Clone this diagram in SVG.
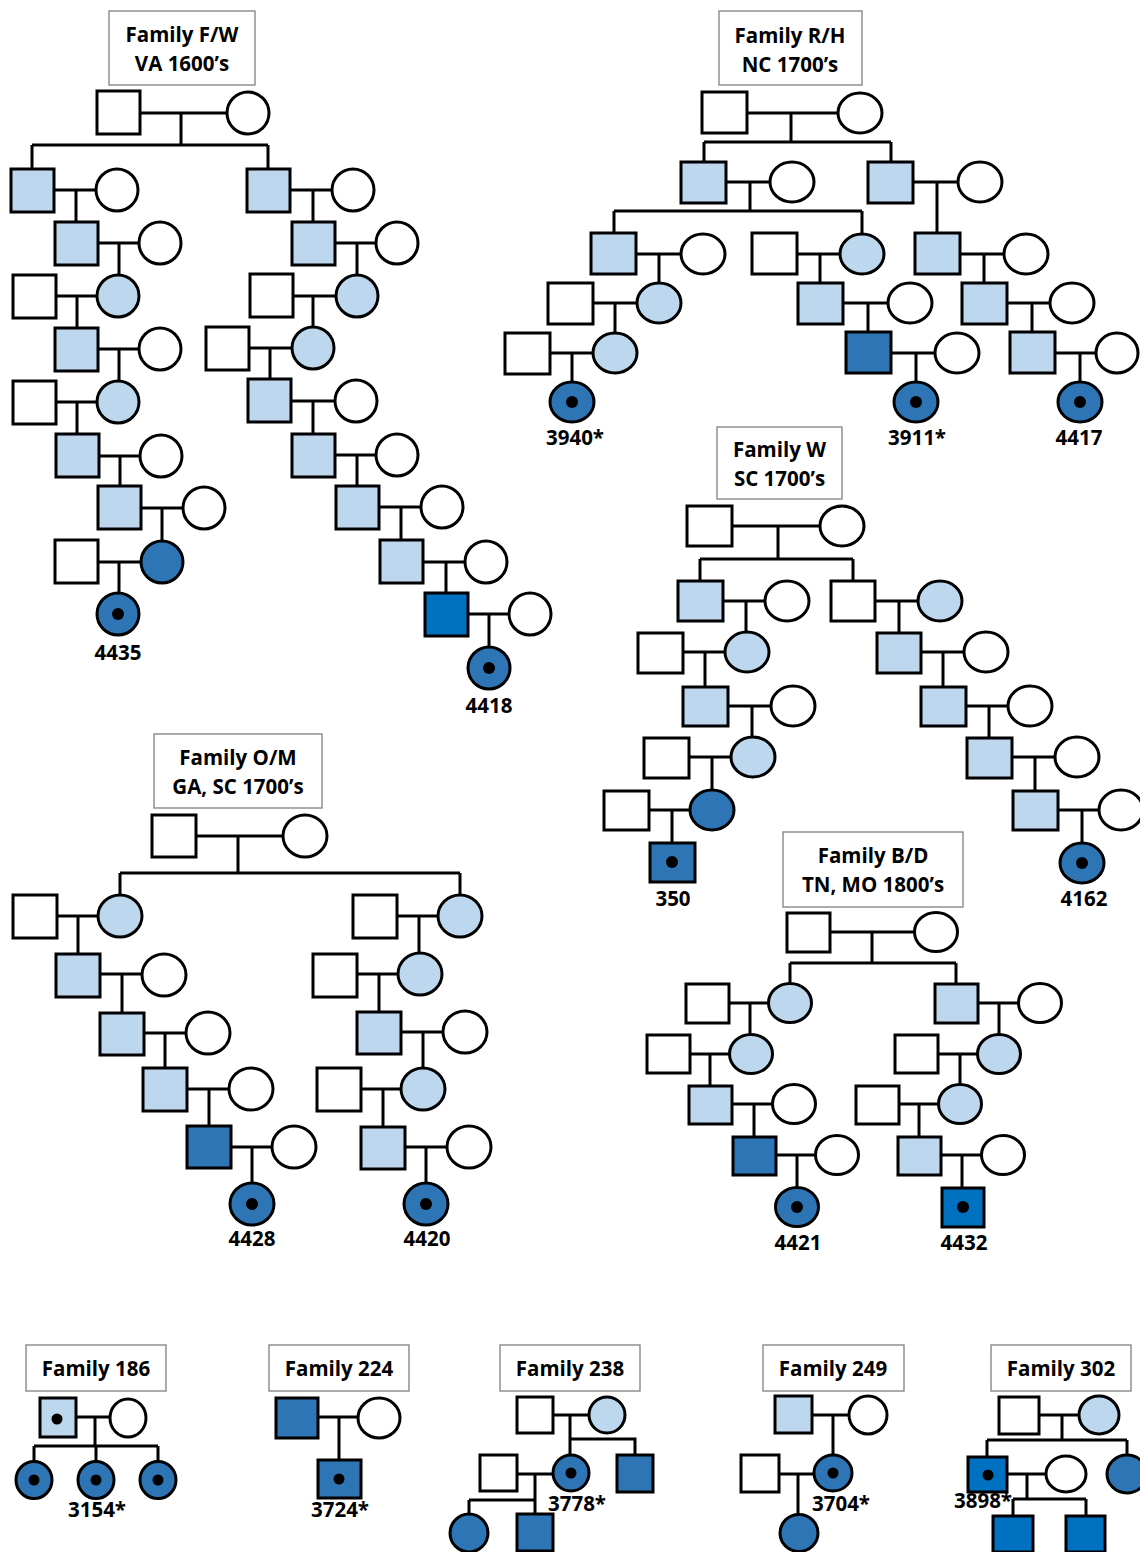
<svg xmlns="http://www.w3.org/2000/svg" width="1140" height="1552" viewBox="0 0 1140 1552">
<style>
.nodes rect,.nodes ellipse{stroke:#000;stroke-width:3}
.w{fill:#fff}.l{fill:#BDD7EE}.d{fill:#2E75B6}.b{fill:#0070C0}
.nodes .dot{fill:#000;stroke:none}
.nodes rect.box{fill:#fff;stroke:#7f7f7f;stroke-width:1.3}
.t{font-family:'Open Sans','Liberation Sans',sans-serif;font-weight:700;font-size:20.5px;text-anchor:middle;fill:#000}
.conn path{stroke:#000;stroke-width:3;fill:none}
</style>
<rect width="1140" height="1552" fill="#fff"/>
<g class="conn">
<!-- F/W -->
<path d="M140 113H227M181 113V145M32 145H268M32 145V169M268 145V169"/>
<path d="M54 190H96M76 190V222M98 243H139M119 243V275M56 296H97M77 296V328M98 349H139M119 349V381M56 402H97M77 402V434M99 456H140M120 456V486M141 508H183M162 508V541M98 562H141M119 562V593"/>
<path d="M290 190H332M313 190V222M335 243H376M357 243V275M293 296H336M313 296V327M249 348H292M270 348V379M291 401H335M313 401V434M335 455H376M357 455V486M379 507H421M401 507V540M423 562H465M446 562V593M468 614H509M489 614V646"/>
<!-- R/H -->
<path d="M747 113H838M791 113V142M704 142H891M704 142V162M891 142V162"/>
<path d="M726 182H770M750 182V211M614 211H862M614 211V233M862 211V234M913 182H958M937 182V233"/>
<path d="M636 254H681M659 254V283M797 254H840M820 254V283M960 254H1004M984 254V283"/>
<path d="M593 303H637M615 303V333M843 303H888M868 303V332M1007 303H1050M1032 303V332"/>
<path d="M550 353H593M572 353V382M891 353H935M916 353V382M1055 353H1096M1080 353V382"/>
<!-- W -->
<path d="M732 526H820M778 526V559M700 559H853M700 559V581M853 559V581"/>
<path d="M723 601H765M746 601V633M875 601H918M899 601V633M683 652H725M705 652V687M921 652H964M943 652V687"/>
<path d="M728 706H771M752 706V738M966 706H1008M989 706V738M689 757H731M712 757V790M1012 757H1055M1035 757V791"/>
<path d="M649 810H690M672 810V843M1058 810H1099M1082 810V843"/>
<!-- O/M -->
<path d="M196 836H283M238 836V873M120 873H460M120 873V895M460 873V895"/>
<path d="M57 916H98M78 916V954M397 916H438M419 916V953M100 974H142M122 974V1013M357 974H398M379 974V1012"/>
<path d="M144 1033H186M165 1033V1068M401 1032H443M423 1032V1068M187 1089H229M209 1089V1126M361 1089H401M383 1089V1127"/>
<path d="M231 1147H272M252 1147V1183M405 1147H447M426 1147V1183"/>
<!-- B/D -->
<path d="M830 932H914M872 932V963M790 963H956M790 963V984M956 963V984"/>
<path d="M729 1003H769M750 1003V1035M978 1003H1018M999 1003V1035M690 1054H729M710 1054V1086M938 1054H978M960 1054V1086"/>
<path d="M732 1104H773M754 1104V1137M899 1104H939M919 1104V1137M776 1155H816M797 1155V1188M941 1155H982M962 1155V1188"/>
<!-- bottom -->
<path d="M76 1417H110M95 1417V1446M34 1446H158M34 1446V1462M96 1446V1462M158 1446V1462"/>
<path d="M318 1417H358M339 1417V1460"/>
<path d="M553 1415H589M570 1415V1455M570 1439H635V1455M517 1474H553M535 1474V1514M469 1500H535M469 1500V1514"/>
<path d="M812 1415H849M833 1415V1455M779 1474H814M798 1474V1514"/>
<path d="M1039 1415H1079M1062 1415V1440M987 1440H1127M987 1440V1457M1127 1440V1455M1007 1474H1046M1027 1474V1499M1013 1499H1086M1013 1499V1516M1086 1499V1516"/>
</g>
<g class="nodes">
<!-- Family F/W -->
<g id="fw-title"><rect class="box" x="109" y="11" width="146" height="74"/><text class="t" x="182" y="42">Family F/W</text><text class="t" x="182" y="71">VA 1600’s</text></g>
<g id="fw-f1"><rect class="w" x="97" y="91" width="43" height="43"/></g>
<g id="fw-f2"><ellipse class="w" cx="248" cy="113" rx="21" ry="21"/></g>
<g id="fw-l1a"><rect class="l" x="11" y="169" width="43" height="43"/></g>
<g id="fw-l1b"><ellipse class="w" cx="117" cy="190" rx="21" ry="21"/></g>
<g id="fw-l2a"><rect class="l" x="55" y="222" width="43" height="43"/></g>
<g id="fw-l2b"><ellipse class="w" cx="160" cy="243" rx="21" ry="21"/></g>
<g id="fw-l3a"><rect class="w" x="13" y="275" width="43" height="43"/></g>
<g id="fw-l3b"><ellipse class="l" cx="118" cy="296" rx="21" ry="21"/></g>
<g id="fw-l4a"><rect class="l" x="55" y="328" width="43" height="43"/></g>
<g id="fw-l4b"><ellipse class="w" cx="160" cy="349" rx="21" ry="21"/></g>
<g id="fw-l5a"><rect class="w" x="13" y="381" width="43" height="43"/></g>
<g id="fw-l5b"><ellipse class="l" cx="118" cy="402" rx="21" ry="21"/></g>
<g id="fw-l6a"><rect class="l" x="56" y="434" width="43" height="43"/></g>
<g id="fw-l6b"><ellipse class="w" cx="161" cy="456" rx="21" ry="21"/></g>
<g id="fw-l7a"><rect class="l" x="98" y="486" width="43" height="43"/></g>
<g id="fw-l7b"><ellipse class="w" cx="204" cy="508" rx="21" ry="21"/></g>
<g id="fw-l8a"><rect class="w" x="55" y="540" width="43" height="43"/></g>
<g id="fw-l8b"><ellipse class="d" cx="162" cy="562" rx="21" ry="21"/></g>
<g id="fw-4435"><ellipse class="d" cx="118" cy="614" rx="21" ry="21"/><circle class="dot" cx="118" cy="614" r="6"/><text class="t" x="118" y="660">4435</text></g>
<g id="fw-r1a"><rect class="l" x="247" y="169" width="43" height="43"/></g>
<g id="fw-r1b"><ellipse class="w" cx="353" cy="190" rx="21" ry="21"/></g>
<g id="fw-r2a"><rect class="l" x="292" y="222" width="43" height="43"/></g>
<g id="fw-r2b"><ellipse class="w" cx="397" cy="243" rx="21" ry="21"/></g>
<g id="fw-r3a"><rect class="w" x="250" y="274" width="43" height="43"/></g>
<g id="fw-r3b"><ellipse class="l" cx="357" cy="296" rx="21" ry="21"/></g>
<g id="fw-r4a"><rect class="w" x="206" y="327" width="43" height="43"/></g>
<g id="fw-r4b"><ellipse class="l" cx="313" cy="348" rx="21" ry="21"/></g>
<g id="fw-r5a"><rect class="l" x="248" y="379" width="43" height="43"/></g>
<g id="fw-r5b"><ellipse class="w" cx="356" cy="401" rx="21" ry="21"/></g>
<g id="fw-r6a"><rect class="l" x="292" y="434" width="43" height="43"/></g>
<g id="fw-r6b"><ellipse class="w" cx="397" cy="455" rx="21" ry="21"/></g>
<g id="fw-r7a"><rect class="l" x="336" y="486" width="43" height="43"/></g>
<g id="fw-r7b"><ellipse class="w" cx="442" cy="507" rx="21" ry="21"/></g>
<g id="fw-r8a"><rect class="l" x="380" y="540" width="43" height="43"/></g>
<g id="fw-r8b"><ellipse class="w" cx="486" cy="562" rx="21" ry="21"/></g>
<g id="fw-r9a"><rect class="b" x="425" y="593" width="43" height="43"/></g>
<g id="fw-r9b"><ellipse class="w" cx="530" cy="614" rx="21" ry="21"/></g>
<g id="fw-4418"><ellipse class="d" cx="489" cy="668" rx="21" ry="21"/><circle class="dot" cx="489" cy="668" r="6"/><text class="t" x="489" y="713">4418</text></g>
<!-- Family R/H -->
<g id="rh-title"><rect class="box" x="719" y="11" width="143" height="74"/><text class="t" x="790" y="43">Family R/H</text><text class="t" x="790" y="72">NC 1700’s</text></g>
<g id="rh-f1"><rect class="w" x="702" y="92" width="45" height="41"/></g>
<g id="rh-f2"><ellipse class="w" cx="860" cy="113" rx="22" ry="20"/></g>
<g id="rh-1a"><rect class="l" x="681" y="162" width="45" height="41"/></g>
<g id="rh-1b"><ellipse class="w" cx="792" cy="182" rx="22" ry="20"/></g>
<g id="rh-1c"><rect class="l" x="868" y="162" width="45" height="41"/></g>
<g id="rh-1d"><ellipse class="w" cx="980" cy="182" rx="22" ry="20"/></g>
<g id="rh-2a"><rect class="l" x="591" y="233" width="45" height="41"/></g>
<g id="rh-2b"><ellipse class="w" cx="703" cy="254" rx="22" ry="20"/></g>
<g id="rh-2c"><rect class="w" x="752" y="233" width="45" height="41"/></g>
<g id="rh-2d"><ellipse class="l" cx="862" cy="254" rx="22" ry="20"/></g>
<g id="rh-2e"><rect class="l" x="915" y="233" width="45" height="41"/></g>
<g id="rh-2f"><ellipse class="w" cx="1026" cy="254" rx="22" ry="20"/></g>
<g id="rh-3a"><rect class="w" x="548" y="283" width="45" height="41"/></g>
<g id="rh-3b"><ellipse class="l" cx="659" cy="303" rx="22" ry="20"/></g>
<g id="rh-3c"><rect class="l" x="798" y="283" width="45" height="41"/></g>
<g id="rh-3d"><ellipse class="w" cx="910" cy="303" rx="22" ry="20"/></g>
<g id="rh-3e"><rect class="l" x="962" y="283" width="45" height="41"/></g>
<g id="rh-3f"><ellipse class="w" cx="1072" cy="303" rx="22" ry="20"/></g>
<g id="rh-4a"><rect class="w" x="505" y="333" width="45" height="41"/></g>
<g id="rh-4b"><ellipse class="l" cx="615" cy="353" rx="22" ry="20"/></g>
<g id="rh-4c"><rect class="d" x="846" y="332" width="45" height="41"/></g>
<g id="rh-4d"><ellipse class="w" cx="957" cy="353" rx="22" ry="20"/></g>
<g id="rh-4e"><rect class="l" x="1010" y="332" width="45" height="41"/></g>
<g id="rh-4f"><ellipse class="w" cx="1117" cy="353" rx="21" ry="20"/></g>
<g id="rh-3940"><ellipse class="d" cx="572" cy="402" rx="22" ry="20"/><circle class="dot" cx="572" cy="402" r="6"/><text class="t" x="575" y="445">3940*</text></g>
<g id="rh-3911"><ellipse class="d" cx="916" cy="402" rx="22" ry="20"/><circle class="dot" cx="916" cy="402" r="6"/><text class="t" x="917" y="445">3911*</text></g>
<g id="rh-4417"><ellipse class="d" cx="1080" cy="402" rx="22" ry="20"/><circle class="dot" cx="1080" cy="402" r="6"/><text class="t" x="1079" y="445">4417</text></g>
<!-- Family W -->
<g id="w-title"><rect class="box" x="717" y="427" width="125" height="72"/><text class="t" x="779.5" y="457">Family W</text><text class="t" x="779.5" y="486">SC 1700’s</text></g>
<g id="w-f1"><rect class="w" x="687" y="506" width="45" height="40"/></g>
<g id="w-f2"><ellipse class="w" cx="842" cy="526" rx="22" ry="20"/></g>
<g id="w-1a"><rect class="l" x="678" y="581" width="45" height="40"/></g>
<g id="w-1b"><ellipse class="w" cx="787" cy="601" rx="22" ry="20"/></g>
<g id="w-1c"><rect class="w" x="831" y="581" width="44" height="40"/></g>
<g id="w-1d"><ellipse class="l" cx="940" cy="601" rx="22" ry="20"/></g>
<g id="w-2a"><rect class="w" x="638" y="633" width="45" height="40"/></g>
<g id="w-2b"><ellipse class="l" cx="747" cy="652" rx="22" ry="20"/></g>
<g id="w-2c"><rect class="l" x="877" y="633" width="44" height="40"/></g>
<g id="w-2d"><ellipse class="w" cx="986" cy="652" rx="22" ry="20"/></g>
<g id="w-3a"><rect class="l" x="683" y="687" width="45" height="39"/></g>
<g id="w-3b"><ellipse class="w" cx="793" cy="706" rx="22" ry="20"/></g>
<g id="w-3c"><rect class="l" x="921" y="687" width="45" height="39"/></g>
<g id="w-3d"><ellipse class="w" cx="1030" cy="706" rx="22" ry="20"/></g>
<g id="w-4a"><rect class="w" x="644" y="738" width="45" height="40"/></g>
<g id="w-4b"><ellipse class="l" cx="753" cy="757" rx="22" ry="20"/></g>
<g id="w-4c"><rect class="l" x="967" y="738" width="45" height="40"/></g>
<g id="w-4d"><ellipse class="w" cx="1077" cy="757" rx="22" ry="20"/></g>
<g id="w-5a"><rect class="w" x="604" y="791" width="45" height="39"/></g>
<g id="w-5b"><ellipse class="d" cx="712" cy="810" rx="22" ry="20"/></g>
<g id="w-5c"><rect class="l" x="1013" y="791" width="45" height="39"/></g>
<g id="w-5d"><ellipse class="w" cx="1121" cy="810" rx="22" ry="20"/></g>
<g id="w-350"><rect class="d" x="650" y="843" width="45" height="39"/><circle class="dot" cx="672" cy="862" r="6"/><text class="t" x="673" y="906">350</text></g>
<g id="w-4162"><ellipse class="d" cx="1082" cy="863" rx="22" ry="20"/><circle class="dot" cx="1082" cy="863" r="6"/><text class="t" x="1084" y="906">4162</text></g>
<!-- Family O/M -->
<g id="om-title"><rect class="box" x="154" y="734" width="168" height="74"/><text class="t" x="238" y="765">Family O/M</text><text class="t" x="238" y="794">GA, SC 1700’s</text></g>
<g id="om-f1"><rect class="w" x="152" y="815" width="44" height="42"/></g>
<g id="om-f2"><ellipse class="w" cx="305" cy="836" rx="22" ry="21"/></g>
<g id="om-1a"><rect class="w" x="13" y="895" width="44" height="43"/></g>
<g id="om-1b"><ellipse class="l" cx="120" cy="916" rx="22" ry="21"/></g>
<g id="om-1c"><rect class="w" x="353" y="895" width="44" height="43"/></g>
<g id="om-1d"><ellipse class="l" cx="460" cy="916" rx="22" ry="21"/></g>
<g id="om-2a"><rect class="l" x="56" y="954" width="44" height="43"/></g>
<g id="om-2b"><ellipse class="w" cx="164" cy="975" rx="22" ry="21"/></g>
<g id="om-2c"><rect class="w" x="313" y="954" width="44" height="43"/></g>
<g id="om-2d"><ellipse class="l" cx="420" cy="974" rx="22" ry="21"/></g>
<g id="om-3a"><rect class="l" x="100" y="1013" width="44" height="42"/></g>
<g id="om-3b"><ellipse class="w" cx="208" cy="1033" rx="22" ry="21"/></g>
<g id="om-3c"><rect class="l" x="357" y="1012" width="44" height="42"/></g>
<g id="om-3d"><ellipse class="w" cx="465" cy="1032" rx="22" ry="21"/></g>
<g id="om-4a"><rect class="l" x="143" y="1068" width="44" height="43"/></g>
<g id="om-4b"><ellipse class="w" cx="251" cy="1089" rx="22" ry="21"/></g>
<g id="om-4c"><rect class="w" x="317" y="1068" width="44" height="43"/></g>
<g id="om-4d"><ellipse class="l" cx="423" cy="1089" rx="22" ry="21"/></g>
<g id="om-5a"><rect class="d" x="187" y="1126" width="44" height="42"/></g>
<g id="om-5b"><ellipse class="w" cx="294" cy="1147" rx="22" ry="21"/></g>
<g id="om-5c"><rect class="l" x="361" y="1127" width="44" height="42"/></g>
<g id="om-5d"><ellipse class="w" cx="469" cy="1147" rx="22" ry="21"/></g>
<g id="om-4428"><ellipse class="d" cx="252" cy="1204" rx="22" ry="21"/><circle class="dot" cx="252" cy="1204" r="6"/><text class="t" x="252" y="1246">4428</text></g>
<g id="om-4420"><ellipse class="d" cx="426" cy="1204" rx="22" ry="21"/><circle class="dot" cx="426" cy="1204" r="6"/><text class="t" x="427" y="1246">4420</text></g>
<!-- Family B/D -->
<g id="bd-title"><rect class="box" x="783" y="832" width="180" height="75"/><text class="t" x="873" y="863">Family B/D</text><text class="t" x="873" y="892">TN, MO 1800’s</text></g>
<g id="bd-f1"><rect class="w" x="787" y="913" width="43" height="39"/></g>
<g id="bd-f2"><ellipse class="w" cx="936" cy="932" rx="21.5" ry="19.5"/></g>
<g id="bd-1a"><rect class="w" x="686" y="984" width="43" height="39"/></g>
<g id="bd-1b"><ellipse class="l" cx="790" cy="1003" rx="21.5" ry="19.5"/></g>
<g id="bd-1c"><rect class="l" x="935" y="984" width="43" height="39"/></g>
<g id="bd-1d"><ellipse class="w" cx="1040" cy="1003" rx="21.5" ry="19.5"/></g>
<g id="bd-2a"><rect class="w" x="647" y="1035" width="43" height="38"/></g>
<g id="bd-2b"><ellipse class="l" cx="751" cy="1054" rx="21.5" ry="19.5"/></g>
<g id="bd-2c"><rect class="w" x="895" y="1035" width="43" height="38"/></g>
<g id="bd-2d"><ellipse class="l" cx="999" cy="1054" rx="21.5" ry="19.5"/></g>
<g id="bd-3a"><rect class="l" x="689" y="1086" width="43" height="38"/></g>
<g id="bd-3b"><ellipse class="w" cx="794" cy="1104" rx="21.5" ry="19.5"/></g>
<g id="bd-3c"><rect class="w" x="856" y="1086" width="43" height="38"/></g>
<g id="bd-3d"><ellipse class="l" cx="960" cy="1104" rx="21.5" ry="19.5"/></g>
<g id="bd-4a"><rect class="d" x="733" y="1137" width="43" height="38"/></g>
<g id="bd-4b"><ellipse class="w" cx="837" cy="1155" rx="21.5" ry="19.5"/></g>
<g id="bd-4c"><rect class="l" x="898" y="1137" width="43" height="38"/></g>
<g id="bd-4d"><ellipse class="w" cx="1003" cy="1155" rx="21.5" ry="19.5"/></g>
<g id="bd-4421"><ellipse class="d" cx="797" cy="1207" rx="21.5" ry="19.5"/><circle class="dot" cx="797" cy="1207" r="6"/><text class="t" x="798" y="1250">4421</text></g>
<g id="bd-4432"><rect class="b" x="942" y="1188" width="42" height="39"/><circle class="dot" cx="963" cy="1207" r="6"/><text class="t" x="964" y="1250">4432</text></g>
<!-- Family 186 -->
<g id="f186-title"><rect class="box" x="26" y="1345" width="140" height="46"/><text class="t" x="96" y="1376">Family 186</text></g>
<g id="f186-f1"><rect class="l" x="40" y="1398" width="36" height="39"/><circle class="dot" cx="57" cy="1419" r="5.5"/></g>
<g id="f186-f2"><ellipse class="w" cx="128" cy="1418" rx="18" ry="19"/></g>
<g id="f186-c1"><ellipse class="d" cx="34" cy="1480" rx="18" ry="18.5"/><circle class="dot" cx="34" cy="1480" r="5.5"/></g>
<g id="f186-3154"><ellipse class="d" cx="96" cy="1480" rx="18" ry="18.5"/><circle class="dot" cx="96" cy="1480" r="5.5"/><text class="t" x="97" y="1517">3154*</text></g>
<g id="f186-c3"><ellipse class="d" cx="158" cy="1480" rx="18" ry="18.5"/><circle class="dot" cx="158" cy="1480" r="5.5"/></g>
<!-- Family 224 -->
<g id="f224-title"><rect class="box" x="269" y="1345" width="140" height="46"/><text class="t" x="339" y="1376">Family 224</text></g>
<g id="f224-f1"><rect class="d" x="276" y="1398" width="42" height="40"/></g>
<g id="f224-f2"><ellipse class="w" cx="379" cy="1418" rx="21" ry="20"/></g>
<g id="f224-3724"><rect class="d" x="318" y="1460" width="43" height="38"/><circle class="dot" cx="339" cy="1479" r="5.5"/><text class="t" x="340" y="1517">3724*</text></g>
<!-- Family 238 -->
<g id="f238-title"><rect class="box" x="500" y="1345" width="140" height="46"/><text class="t" x="570" y="1376">Family 238</text></g>
<g id="f238-f1"><rect class="w" x="517" y="1397" width="36" height="36"/></g>
<g id="f238-f2"><ellipse class="l" cx="607" cy="1415" rx="18" ry="18"/></g>
<g id="f238-s1"><rect class="w" x="480" y="1455" width="37" height="36"/></g>
<g id="f238-3778"><ellipse class="d" cx="571" cy="1473" rx="18" ry="18"/><circle class="dot" cx="571" cy="1473" r="5.5"/><text class="t" x="577" y="1511">3778*</text></g>
<g id="f238-c2"><rect class="d" x="617" y="1455" width="36" height="37"/></g>
<g id="f238-g1"><ellipse class="d" cx="469" cy="1533" rx="19" ry="19"/></g>
<g id="f238-g2"><rect class="d" x="517" y="1514" width="36" height="37"/></g>
<!-- Family 249 -->
<g id="f249-title"><rect class="box" x="763" y="1345" width="141" height="46"/><text class="t" x="833" y="1376">Family 249</text></g>
<g id="f249-f1"><rect class="l" x="775" y="1396" width="37" height="37"/></g>
<g id="f249-f2"><ellipse class="w" cx="868" cy="1415" rx="19" ry="19"/></g>
<g id="f249-s1"><rect class="w" x="741" y="1455" width="38" height="37"/></g>
<g id="f249-3704"><ellipse class="d" cx="833" cy="1473" rx="19" ry="18"/><circle class="dot" cx="833" cy="1473" r="5.5"/><text class="t" x="841" y="1511">3704*</text></g>
<g id="f249-g1"><ellipse class="d" cx="799" cy="1533" rx="19" ry="18.5"/></g>
<!-- Family 302 -->
<g id="f302-title"><rect class="box" x="991" y="1345" width="140" height="46"/><text class="t" x="1061" y="1376">Family 302</text></g>
<g id="f302-f1"><rect class="w" x="999" y="1397" width="40" height="37"/></g>
<g id="f302-f2"><ellipse class="l" cx="1099" cy="1415" rx="20" ry="19"/></g>
<g id="f302-3898"><rect class="b" x="968" y="1457" width="39" height="35"/><circle class="dot" cx="988" cy="1475" r="5.5"/><text class="t" x="983" y="1508">3898*</text></g>
<g id="f302-s1"><ellipse class="w" cx="1066" cy="1474" rx="20" ry="18"/></g>
<g id="f302-c2"><ellipse class="d" cx="1127" cy="1474" rx="20" ry="19"/></g>
<g id="f302-g1"><rect class="b" x="993" y="1516" width="40" height="36"/></g>
<g id="f302-g2"><rect class="b" x="1066" y="1516" width="39" height="36"/></g>
</g>
</svg>
